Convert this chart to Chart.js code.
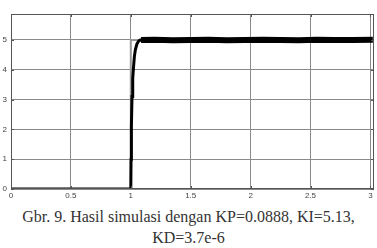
<!DOCTYPE html>
<html>
<head>
<meta charset="utf-8">
<script src="https://cdn.jsdelivr.net/npm/chart.js@4"></script>
<style>
  body { margin: 0; background: #fff; width: 377px; height: 248px; overflow: hidden; }
  #wrap { position: absolute; left: 0; top: 0; width: 377px; height: 200px; }
  #caption {
    position: absolute; left: 0; top: 206px; width: 377px;
    text-align: center; font-family: "Liberation Serif", "Times New Roman", serif;
    font-size: 16px; line-height: 21px; color: #333;
  }
</style>
</head>
<body>
<div id="wrap"><canvas id="chart" width="377" height="200"></canvas></div>
<div id="caption">Gbr. 9. Hasil simulasi dengan KP=0.0888, KI=5.13,<br>KD=3.7e-6</div>
<script>
// reference step (setpoint)
const stepX = [0, 1, 1, 3.03];
const stepY = [0, 0, 5, 5];

// response, rising part
const riseX = [0, 1.0, 1.002, 1.005, 1.01, 1.016, 1.023, 1.03, 1.038, 1.05, 1.063, 1.075, 1.088];
const riseY = [0, 0, 1.0, 2.1, 3.1, 3.7, 4.1, 4.45, 4.67, 4.85, 4.95, 4.99, 5.0];

// response, steady noisy part
const steadyX = [1.085, 1.2, 1.35, 1.5, 1.65, 1.8, 1.95, 2.1, 2.25, 2.4, 2.55, 2.7, 2.85, 3.02];
const steadyY = [5.0, 5.01, 4.99, 5.0, 5.01, 4.99, 5.0, 5.01, 5.0, 4.99, 5.01, 5.0, 5.0, 5.01];

const xTicks = [0, 0.5, 1, 1.5, 2, 2.5, 3];
const yTicks = [0, 1, 2, 3, 4, 5];

const toPoints = (xs, ys) => xs.map((x, i) => ({ x: x, y: ys[i] }));

// box around plot + inward tick marks
const boxPlugin = {
  id: 'box',
  afterDraw(chart) {
    const { ctx, chartArea: a, scales } = chart;
    ctx.save();
    ctx.strokeStyle = '#555';
    ctx.lineWidth = 1;
    ctx.strokeRect(a.left + 0.5, a.top + 0.5, a.right - a.left - 1, a.bottom - a.top - 1);
    ctx.beginPath();
    xTicks.forEach(v => {
      const px = Math.round(scales.x.getPixelForValue(v)) + 0.5;
      ctx.moveTo(px, a.bottom); ctx.lineTo(px, a.bottom - 3);
      ctx.moveTo(px, a.top); ctx.lineTo(px, a.top + 3);
    });
    yTicks.forEach(v => {
      const py = Math.round(scales.y.getPixelForValue(v)) + 0.5;
      ctx.moveTo(a.left, py); ctx.lineTo(a.left + 3, py);
      ctx.moveTo(a.right, py); ctx.lineTo(a.right - 3, py);
    });
    ctx.stroke();
    ctx.restore();
  }
};

new Chart(document.getElementById('chart'), {
  type: 'line',
  data: {
    datasets: [
      {
        data: toPoints(stepX, stepY),
        borderColor: '#9a9a9a',
        borderWidth: 2,
        pointRadius: 0,
        tension: 0,
        order: 3
      },
      {
        data: toPoints(riseX, riseY),
        borderColor: '#000',
        borderWidth: 3,
        pointRadius: 0,
        tension: 0,
        order: 2
      },
      {
        data: toPoints(steadyX, steadyY),
        borderColor: '#000',
        borderWidth: 6,
        borderCapStyle: 'butt',
        pointRadius: 0,
        tension: 0,
        order: 1
      }
    ]
  },
  options: {
    responsive: false,
    animation: false,
    layout: { padding: { top: 14, right: 3, left: 0, bottom: 0 } },
    plugins: { legend: { display: false }, tooltip: { enabled: false } },
    scales: {
      x: {
        type: 'linear',
        min: 0,
        max: 3.03,
        afterBuildTicks: s => { s.ticks = xTicks.map(v => ({ value: v })); },
        afterFit: s => { s.height = 11; },
        border: { display: false },
        grid: { color: '#8a8a8a', borderDash: [1, 2], drawTicks: false, lineWidth: 1 },
        ticks: {
          padding: 2,
          color: '#444',
          font: { family: 'Arial, "Liberation Sans"', size: 8 },
          callback: v => String(v),
          maxRotation: 0
        }
      },
      y: {
        type: 'linear',
        min: 0,
        max: 5.87,
        afterBuildTicks: s => { s.ticks = yTicks.map(v => ({ value: v })); },
        afterFit: s => { s.width = 11; },
        border: { display: false },
        grid: { color: '#8a8a8a', borderDash: [1, 2], drawTicks: false, lineWidth: 1 },
        ticks: {
          padding: 4,
          color: '#444',
          font: { family: 'Arial, "Liberation Sans"', size: 8 },
          callback: v => String(v)
        }
      }
    }
  },
  plugins: [boxPlugin]
});
</script>
</body>
</html>
